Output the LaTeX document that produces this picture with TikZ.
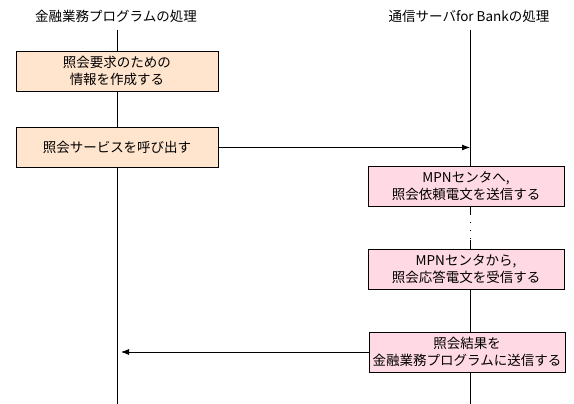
\documentclass[tikz,border=0pt]{standalone}
\usepackage{fontspec}
\setmainfont{Noto Sans CJK JP}
\usetikzlibrary{arrows.meta}
\definecolor{peach}{RGB}{255,228,206}
\definecolor{rose}{RGB}{255,218,228}

\begin{document}
\begin{tikzpicture}[x=1pt,y=-1pt,line width=0.8pt,
  font=\fontsize{13.5}{17}\selectfont,
  procbox/.style={draw,line width=0.8pt,align=center,inner sep=0pt,minimum height=40pt},
  bankbox/.style={procbox,fill=peach,minimum width=202pt},
  srvbox/.style={procbox,fill=rose,minimum width=196pt},
  msg/.style={-{Latex[length=8pt,width=6pt]}}]
\useasboundingbox (0,0) rectangle (574,404);

% Titles
\node (bankttl) at (116,16) {金融業務プログラムの処理};
\node (srvttl) at (469,16) {通信サーバfor Bankの処理};

% Lifelines
\coordinate (ltop) at (117,30);
\coordinate (lbot) at (117,404);
\coordinate (rtop) at (470,30);
\coordinate (rgapa) at (470,214);
\coordinate (rgapb) at (470,240);
\coordinate (rbot) at (470,404);
\draw (ltop) -- (lbot);
\draw (rtop) -- (rgapa);
\draw[dash pattern=on 1pt off 7pt] (rgapa) -- (rgapb);
\draw (rgapb) -- (rbot);

% Steps of the bank program
\node[bankbox] (mkinfo) at (117,71) {照会要求のための\\情報を作成する};
\node[bankbox] (callsvc) at (117,147.5) {照会サービスを呼び出す};

% Steps of the server
\node[srvbox] (sendreq) at (466,186.5) {MPNセンタへ,\\照会依頼電文を送信する};
\node[srvbox] (recvans) at (466,269) {MPNセンタから,\\照会応答電文を受信する};
\node[srvbox] (sendres) at (467,352) {照会結果を\\金融業務プログラムに送信する};

% Messages
\draw[msg] (callsvc.east) -- (callsvc.east -| rtop);
\draw[msg,shorten >=4pt] (sendres.west) -- (sendres.west -| ltop);
\end{tikzpicture}
\end{document}
